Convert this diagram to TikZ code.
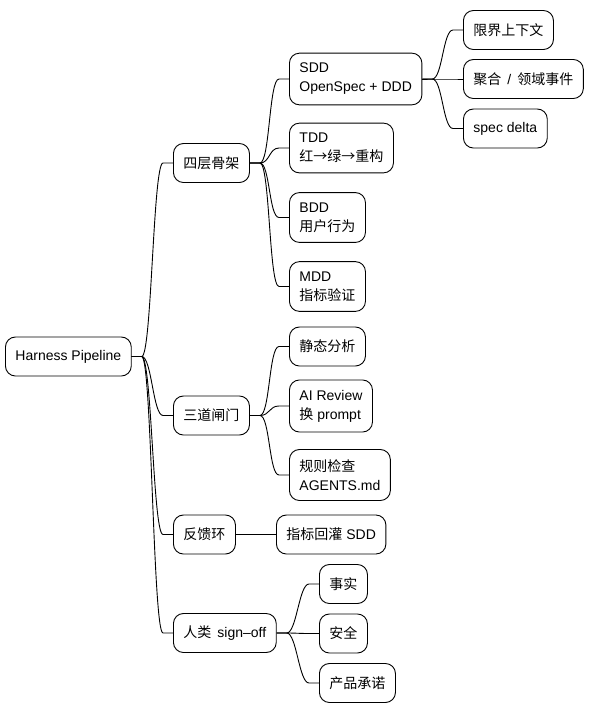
\documentclass[tikz,border=0pt]{standalone}
\usepackage{fontspec}
\setmainfont{Liberation Sans}
\newfontfamily\cjk{Noto Sans CJK SC}
\newcommand\zh[1]{{\cjk #1}}

\begin{document}
\begin{tikzpicture}[x=1pt,y=-1pt]
				\tikzstyle{every node}=[draw,rounded corners=10pt,line width=0.9pt,
				anchor=west,align=left,inner xsep=10pt,inner ysep=10pt,
				minimum height=39pt,font=\fontsize{14}{19}\selectfont]
				\tikzstyle{link}=[line width=0.9pt]
				\useasboundingbox (0,0) rectangle (590,713);
				% root and main branches
				\node (root) at (5,356.5) {Harness Pipeline};
				\node (four) at (173,163) {\zh{四层骨架}};
				\node (three) at (173,415.5) {\zh{三道闸门}};
				\node (loop) at (173,534.5) {\zh{反馈环}};
				\node (human) at (173,633) {\zh{人类}\hspace{6pt}sign–off};
				% four layers
				\node (sdd) at (289,79) {SDD\\OpenSpec + DDD};
				\node (tdd) at (289,148) {TDD\\\zh{红→绿→重构}};
				\node (bdd) at (289,217.5) {BDD\\\zh{用户行为}};
				\node (mdd) at (289,286.5) {MDD\\\zh{指标验证}};
				\node (ctx) at (463,30) {\zh{限界上下文}};
				\node (agg) at (463,79) {\zh{聚合}\hspace{6pt}/\hspace{6pt}\zh{领域事件}};
				\node (delta) at (463,128.5) {spec delta};
				% gates
				\node (static) at (289,346.5) {\zh{静态分析}};
				\node (review) at (289,406) {AI Review\\\zh{换} prompt};
				\node (rules) at (289,475) {\zh{规则检查}\\AGENTS.md};
				% feedback and sign-off
				\node (feed) at (276,534.5) {\zh{指标回灌} SDD};
				\node (fact) at (319,584) {\zh{事实}};
				\node (safe) at (319,633.5) {\zh{安全}};
				\node (promise) at (319,683) {\zh{产品承诺}};
				\foreach \p/\c in {root/four,root/three,root/loop,root/human,
					four/sdd,four/tdd,four/bdd,four/mdd,
					sdd/ctx,sdd/agg,sdd/delta,
					three/static,three/review,three/rules,
					loop/feed,human/fact,human/safe,human/promise}
				\draw[link] (\p.east) -- ++(10,0)
					.. controls +(10,0) and +(-10,0) .. ([xshift=-10pt]\c.west)
					-- (\c.west);
\end{tikzpicture}
\end{document}
